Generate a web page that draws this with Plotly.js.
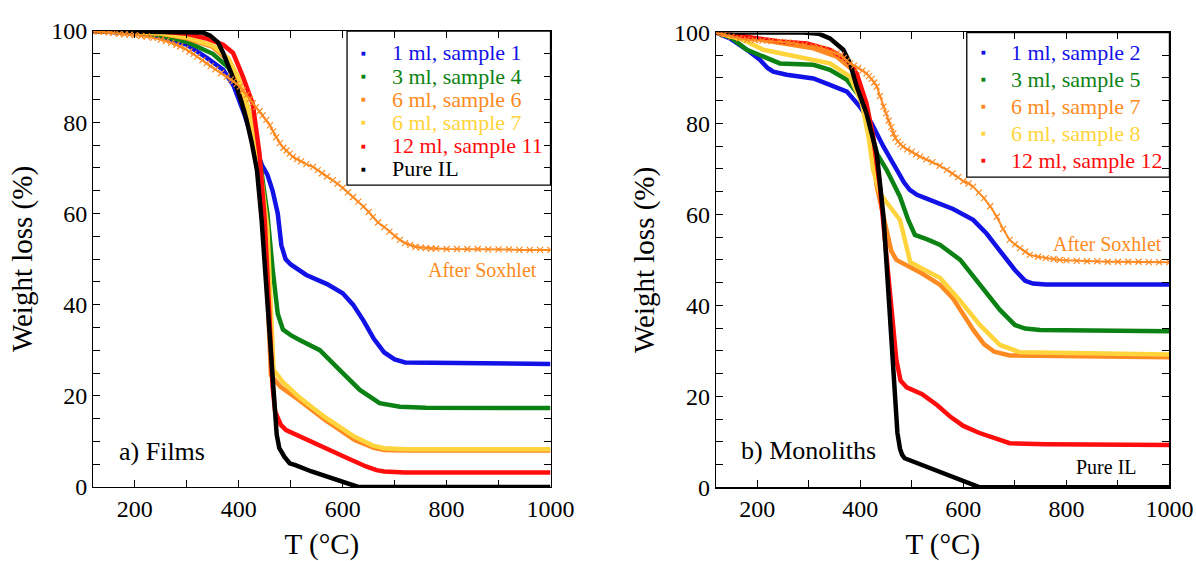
<!DOCTYPE html>
<html>
<head>
<meta charset="utf-8">
<script src="https://cdn.plot.ly/plotly-3.0.1.min.js"></script>
<style>
  html, body { margin: 0; padding: 0; background: #ffffff; }
  #chart { width: 1196px; height: 561px; }
</style>
</head>
<body>
<div id="chart"></div>
<script>
// ---------- a) Films : temperature (°C) and residual weight (%) ----------
const filmS1T = [120, 200, 250, 300, 340, 370, 390, 410, 430, 445, 455, 465, 475, 482, 490, 500, 530, 570, 600, 620, 640, 660, 680, 700, 720, 800, 1000];
const filmS1W = [100, 99.5, 98.8, 97, 94, 91.5, 88, 82, 75, 70.5, 68.5, 65, 60, 53, 50, 48.8, 46.5, 44.5, 42.5, 40, 36.5, 32.5, 29.5, 28, 27.3, 27.2, 27.0];

const filmS4T = [120, 200, 250, 300, 350, 380, 400, 420, 440, 455, 465, 475, 485, 500, 518, 556, 594, 633, 671, 690, 710, 760, 1000];
const filmS4W = [100, 99.6, 99, 97.6, 95, 92, 88, 82, 72, 60, 48, 38, 34.5, 33.3, 32.2, 30, 25.7, 21.3, 18.4, 17.9, 17.6, 17.4, 17.3];

const filmS6T = [120, 200, 250, 300, 350, 380, 400, 420, 440, 452, 458, 462, 480, 517, 566, 623, 660, 680, 720, 1000];
const filmS6W = [100, 99.8, 99.4, 98.4, 96.5, 93.5, 89, 82, 70, 55, 35, 24.5, 22, 19, 14.7, 10.3, 8.6, 8.1, 8.0, 8.0];

const filmS7T = [120, 200, 250, 300, 350, 380, 400, 420, 440, 455, 462, 467, 485, 517, 566, 623, 660, 680, 720, 1000];
const filmS7W = [100, 99.8, 99.5, 98.6, 96.8, 94, 89.6, 82.5, 71, 57, 38, 25.7, 23, 19.6, 15.3, 11, 9, 8.5, 8.3, 8.3];

const filmS11T = [120, 250, 300, 340, 370, 389, 408, 427, 440, 450, 458, 465, 470, 476, 481, 491, 545, 600, 645, 665, 680, 720, 1000];
const filmS11W = [100, 99.9, 99.4, 98.3, 97, 95.2, 90, 84, 73, 58.5, 40, 22, 16.5, 14.8, 13.6, 12.5, 9.6, 6.8, 4.5, 3.7, 3.4, 3.2, 3.2];

const filmILT = [120, 300, 330, 345, 360, 370, 385, 396, 405, 415, 425, 435, 444, 452, 460, 468, 473, 478, 483, 488, 498, 509, 540, 580, 610, 630, 1000];
const filmILW = [100, 99.9, 99.7, 99.0, 97.5, 95.2, 91, 87.7, 84.5, 80.5, 75.5, 69.5, 58.5, 45, 30, 17, 11.5, 8.5, 7.3, 6.6, 5.2, 4.8, 3.4, 1.9, 0.7, 0, 0];

const filmSoxT = [120, 130, 140, 150, 158, 170, 180, 190, 200, 212, 223, 235, 250, 260, 270, 280, 287, 297, 305, 313, 320, 330, 338, 346, 355, 366, 377, 385, 390, 396, 402, 408, 415, 421, 427, 433, 440, 446, 453, 460, 466, 472, 479, 486, 492, 498, 504, 512, 520, 530, 543, 552, 560, 570, 581, 590, 600, 610, 620, 630, 640, 650, 658, 668, 680, 690, 700, 710, 720, 730, 740, 750, 760, 770, 780, 800, 820, 840, 860, 880, 900, 920, 940, 960, 980, 1000];
const filmSoxW = [100, 99.9, 99.8, 99.7, 99.6, 99.4, 99.3, 99.2, 99.1, 98.9, 98.8, 98.5, 98.1, 97.8, 97.4, 97, 96.6, 96.1, 95.5, 95, 94.4, 93.6, 92.9, 92.3, 91.6, 90.8, 90, 89.4, 89, 88.4, 87.8, 87, 86, 85.1, 84.2, 83.3, 82.4, 81.5, 80.5, 79.3, 78, 76.7, 75.4, 74.4, 73.8, 73.1, 72.4, 71.9, 71.4, 70.8, 70.2, 69.5, 68.8, 68.1, 67.3, 66.5, 65.6, 64.6, 63.6, 62.6, 61.5, 60.3, 59.2, 58, 57, 56, 55, 54.2, 53.5, 53.1, 52.7, 52.5, 52.4, 52.3, 52.3, 52.2, 52.2, 52.2, 52.2, 52.1, 52.1, 52.1, 52.0, 52.0, 52.0, 52.0];

// ---------- b) Monoliths ----------
const monoS2T = [120, 147, 180, 205, 220, 231, 257, 309, 341, 374, 399, 422, 445, 471, 485, 496, 510, 535, 580, 619, 645, 671, 700, 720, 735, 760, 1000];
const monoS2W = [100, 98.7, 96.2, 94, 92.2, 91.4, 90.7, 89.9, 88.5, 87, 83.7, 80, 74.9, 69.8, 67, 65.4, 64.3, 63.2, 61.2, 58.8, 55.8, 52, 47.8, 45.4, 44.8, 44.6, 44.6];

const monoS5T = [120, 150, 180, 225, 244, 309, 341, 374, 399, 419, 432, 451, 477, 493, 506, 530, 555, 594, 632, 671, 700, 720, 749, 1000];
const monoS5W = [100, 98.8, 96.2, 94, 93.2, 92.9, 91.8, 89.6, 85.9, 79.3, 73.4, 69.8, 63.9, 58.8, 55.5, 54.5, 53.3, 50, 44.5, 39, 35.7, 34.9, 34.6, 34.3];

const monoS7T = [120, 212, 260, 309, 354, 386, 406, 419, 432, 445, 460, 470, 490, 520, 555, 580, 600, 620, 640, 660, 690, 1000];
const monoS7W = [100, 98.4, 97.6, 96.5, 94.7, 91.7, 84.4, 77.1, 66.1, 59.5, 52, 50, 48.8, 47, 44.5, 41.5, 38, 34.5, 31.5, 29.8, 29, 28.6];

const monoS8T = [120, 170, 212, 277, 341, 380, 403, 416, 425, 438, 458, 477, 497, 520, 555, 594, 632, 671, 710, 1000];
const monoS8W = [100, 98.5, 96.2, 94.7, 93.2, 90.3, 84.4, 77.1, 69.8, 64.6, 61.7, 58.8, 49.5, 48.2, 46, 41, 35.7, 31.3, 29.7, 29.2];

const monoS12T = [120, 244, 296, 341, 374, 393, 412, 425, 438, 455, 465, 470, 478, 490, 520, 550, 575, 600, 630, 660, 690, 760, 1000];
const monoS12W = [100, 98, 97.6, 96.2, 94, 91, 84.4, 77.1, 66.1, 45, 32, 28, 23.5, 22, 20.5, 18, 15.5, 13.5, 12, 10.8, 9.7, 9.5, 9.3];

const monoILT = [120, 289, 320, 341, 367, 380, 393, 412, 432, 445, 455, 465, 472, 477, 481, 486, 504, 540, 575, 605, 632, 1000];
const monoILW = [100, 100, 99.7, 98.7, 96.2, 93.2, 88.1, 82.2, 73.4, 59.5, 42, 25, 12, 8.5, 7.2, 6.4, 5.6, 4.2, 2.7, 1.2, 0, 0];

const monoSoxT = [120, 135, 150, 165, 180, 195, 210, 227, 244, 260, 275, 292, 309, 320, 330, 342, 354, 362, 368, 374, 380, 388, 396, 404, 412, 417, 422, 427, 432, 438, 445, 450, 455, 460, 464, 468, 473, 478, 483, 491, 500, 508, 516, 528, 540, 554, 568, 579, 590, 600, 610, 619, 630, 640, 652, 665, 677, 690, 700, 710, 720, 729, 745, 760, 775, 787, 800, 820, 840, 860, 880, 900, 920, 940, 960, 980, 1000];
const monoSoxW = [100, 99.5, 99.1, 98.7, 98.4, 98.3, 98.2, 98.1, 98, 97.8, 97.5, 97.2, 96.9, 96.6, 96.3, 95.8, 95.4, 95, 94.4, 93.8, 93.2, 92.7, 92.2, 91.6, 91, 90.4, 89.8, 89, 88.1, 86, 83.7, 82.2, 80.6, 79.2, 77.8, 76.8, 76, 75.4, 74.9, 74.3, 73.8, 73.2, 72.7, 72.1, 71.5, 70.7, 69.8, 69, 68.2, 67.3, 66.8, 66.1, 64.8, 63.6, 61.8, 59.5, 56.8, 54.4, 53.4, 52.6, 51.8, 51.1, 50.7, 50.4, 50.2, 50, 49.9, 49.8, 49.7, 49.7, 49.6, 49.6, 49.6, 49.6, 49.5, 49.5, 49.5];

// ---------- labels ----------
const filmNames = ['1 ml, sample 1', '3 ml, sample 4', '6 ml, sample 6', '6 ml, sample 7', '12 ml, sample 11', 'Pure IL'];
const monoNames = ['1 ml, sample 2', '3 ml, sample 5', '6 ml, sample 7', '6 ml, sample 8', '12 ml, sample 12'];
const sampleColors = ['#1212e6', '#0c8214', '#ff8a22', '#ffd43c', '#ff0d0d', '#000000'];
const soxColor = '#ff8a22';

const SERIF = 'Liberation Serif';

function curve(x, y, color, xa, ya, width) {
  return {
    x: x, y: y, xaxis: xa, yaxis: ya, type: 'scatter', mode: 'lines',
    line: { color: color, width: width || 4.5, shape: 'linear' },
    hoverinfo: 'skip', showlegend: false
  };
}
function soxCurve(x, y, xa, ya) {
  return {
    x: x, y: y, xaxis: xa, yaxis: ya, type: 'scatter', mode: 'lines+markers',
    line: { color: soxColor, width: 2, shape: 'linear' },
    marker: { symbol: 'x-thin', size: 6, line: { color: soxColor, width: 1.2 } },
    hoverinfo: 'skip', showlegend: false
  };
}

const data = [
  curve(filmS1T, filmS1W, sampleColors[0], 'x', 'y'),
  curve(filmS4T, filmS4W, sampleColors[1], 'x', 'y'),
  curve(filmS6T, filmS6W, sampleColors[2], 'x', 'y'),
  curve(filmS7T, filmS7W, sampleColors[3], 'x', 'y'),
  curve(filmS11T, filmS11W, sampleColors[4], 'x', 'y'),
  curve(filmILT, filmILW, sampleColors[5], 'x', 'y', 4.5),
  soxCurve(filmSoxT, filmSoxW, 'x', 'y'),

  curve(monoS2T, monoS2W, sampleColors[0], 'x2', 'y2'),
  curve(monoS5T, monoS5W, sampleColors[1], 'x2', 'y2'),
  curve(monoS7T, monoS7W, sampleColors[2], 'x2', 'y2'),
  curve(monoS8T, monoS8W, sampleColors[3], 'x2', 'y2'),
  curve(monoS12T, monoS12W, sampleColors[4], 'x2', 'y2'),
  curve(monoILT, monoILW, sampleColors[5], 'x2', 'y2', 4.5),
  soxCurve(monoSoxT, monoSoxW, 'x2', 'y2')
];

function xAxis(domain, anchor) {
  return {
    domain: domain, anchor: anchor, range: [120, 1000], dtick: 200, tick0: 0,
    showgrid: false, zeroline: false, showline: true, linecolor: '#000', linewidth: 1.3,
    mirror: 'allticks', ticks: 'inside', ticklen: 7, tickwidth: 1, tickcolor: '#000',
    minor: { dtick: 100, tick0: 0, ticks: 'inside', ticklen: 7, tickwidth: 1, tickcolor: '#000', showgrid: false },
    tickfont: { family: SERIF, size: 24, color: '#000' },
    title: { text: 'T (°C)', font: { family: SERIF, size: 29, color: '#000' }, standoff: 13 }
  };
}
function yAxis(domain, anchor) {
  return {
    domain: domain, anchor: anchor, range: [0, 100], dtick: 20, tick0: 0,
    showgrid: false, zeroline: false, showline: true, linecolor: '#000', linewidth: 1.3,
    mirror: 'allticks', ticks: 'inside', ticklen: 7, tickwidth: 1, tickcolor: '#000',
    minor: { dtick: 5, tick0: 0, ticks: 'inside', ticklen: 7, tickwidth: 1, tickcolor: '#000', showgrid: false },
    tickfont: { family: SERIF, size: 24, color: '#000' },
    title: { text: 'Weight loss (%)', font: { family: SERIF, size: 29, color: '#000' }, standoff: 10 }
  };
}

const annotations = [];
const shapes = [];

// legend boxes built from the name/colour lists
function legendBox(names, xa, ya, x0, y0, rowH, firstRow) {
  shapes.push({
    type: 'rect', xref: xa + ' domain', yref: ya + ' domain',
    x0: x0, x1: 1, y0: y0, y1: 1,
    line: { color: '#000', width: 1.3 }, fillcolor: 'rgba(255,255,255,0)'
  });
  names.forEach(function (name, i) {
    const yy = 1 - firstRow - i * rowH;
    annotations.push({
      xref: xa + ' domain', yref: ya + ' domain', x: x0 + 0.036, y: yy,
      text: '■', showarrow: false, xanchor: 'center', yanchor: 'middle',
      font: { family: 'DejaVu Sans', size: 5, color: sampleColors[i] }
    });
    annotations.push({
      xref: xa + ' domain', yref: ya + ' domain', x: x0 + 0.093, y: yy,
      text: name, showarrow: false, xanchor: 'left', yanchor: 'middle',
      font: { family: SERIF, size: 22, color: sampleColors[i] }
    });
  });
}
legendBox(filmNames, 'x', 'y', 0.555, 0.662, 0.0508, 0.048);
legendBox(monoNames, 'x2', 'y2', 0.553, 0.682, 0.0592, 0.044);

annotations.push(
  { xref: 'x', yref: 'y', x: 1000 - 22, y: 47.5, text: 'After Soxhlet', showarrow: false, xanchor: 'right', yanchor: 'middle',
    font: { family: SERIF, size: 20, color: soxColor } },
  { xref: 'x domain', yref: 'y domain', x: 0.052, y: 0.077, text: 'a) Films', showarrow: false, xanchor: 'left', yanchor: 'middle',
    font: { family: SERIF, size: 26, color: '#000' } },
  { xref: 'x2', yref: 'y2', x: 1000 - 10, y: 53.5, text: 'After Soxhlet', showarrow: false, xanchor: 'right', yanchor: 'middle',
    font: { family: SERIF, size: 20, color: soxColor } },
  { xref: 'x2', yref: 'y2', x: 1000 - 60, y: 4.5, text: 'Pure IL', showarrow: false, xanchor: 'right', yanchor: 'middle',
    font: { family: SERIF, size: 20, color: '#000' } },
  { xref: 'x2 domain', yref: 'y2 domain', x: 0.05, y: 0.082, text: 'b) Monoliths', showarrow: false, xanchor: 'left', yanchor: 'middle',
    font: { family: SERIF, size: 26, color: '#000' } }
);

const layout = {
  width: 1196, height: 561,
  margin: { l: 0, r: 0, t: 0, b: 0 },
  paper_bgcolor: '#ffffff', plot_bgcolor: '#ffffff',
  showlegend: false,
  font: { family: SERIF },
  xaxis: xAxis([0.0780, 0.4603], 'y'),
  yaxis: yAxis([0.1319, 0.9447], 'x'),
  xaxis2: xAxis([0.5987, 0.9778], 'y2'),
  yaxis2: yAxis([0.1313, 0.9421], 'x2'),
  annotations: annotations,
  shapes: shapes
};

Plotly.newPlot('chart', data, layout, { staticPlot: true, displayModeBar: false });
</script>
</body>
</html>
